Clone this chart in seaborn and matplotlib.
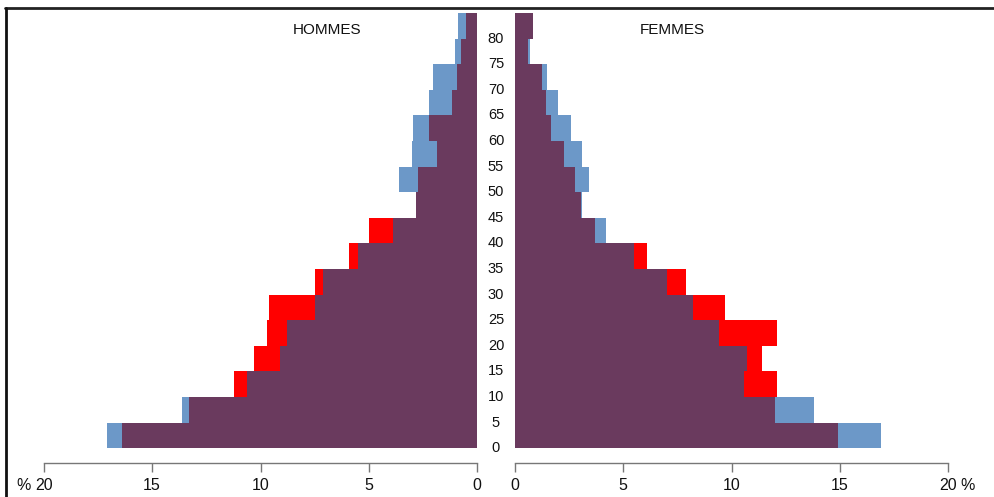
import numpy as np
import pandas as pd
import matplotlib
matplotlib.use("Agg")
import matplotlib.pyplot as plt
import matplotlib.transforms as mtransforms
from matplotlib.lines import Line2D
import seaborn as sns

# ---- data ----
ages = [0, 5, 10, 15, 20, 25, 30, 35, 40, 45, 50, 55, 60, 65, 70, 75, 80]
hommes_bleu = [17.1, 13.6, 10.6, 9.1, 8.8, 7.5, 7.1, 5.5, 3.9, 2.85, 3.6, 3.0, 2.95, 2.25, 2.05, 1.05, 0.9]
hommes_rouge = [16.4, 13.3, 11.2, 10.3, 9.7, 9.6, 7.5, 5.9, 5.0, 2.85, 2.75, 1.85, 2.25, 1.15, 0.95, 0.75, 0.5]
femmes_bleu = [16.9, 13.8, 10.6, 10.7, 9.4, 8.2, 7.0, 5.5, 4.2, 3.1, 3.4, 3.1, 2.6, 2.0, 1.5, 0.7, 0.83]
femmes_rouge = [14.9, 12.0, 12.1, 11.4, 12.1, 9.7, 7.9, 6.1, 3.7, 3.05, 2.75, 2.25, 1.65, 1.45, 1.25, 0.62, 0.83]
x_ticks = [0, 5, 10, 15, 20]
age_labels = [str(a) for a in ages]

BLUE = "#6C98C8"
RED = "#FF0000"
PURPLE = "#6A3A5E"
W, H = 994, 497

sns.set_theme(style="white")
plt.rcParams["font.family"] = ["Liberation Sans", "DejaVu Sans"]

fig = plt.figure(figsize=(W / 100, H / 100), dpi=100)
fig.patch.set_facecolor("white")

ybot = 1 - 448.3 / H
ytop = 1 - 13 / H
ax_l = fig.add_axes([43.7 / W, ybot, (477.3 - 43.7) / W, ytop - ybot])
ax_r = fig.add_axes([515 / W, ybot, (948 - 515) / W, ytop - ybot])

mids = [a + 2.5 for a in ages]


def draw(ax, bleu, rouge):
    overlap = np.minimum(bleu, rouge)
    for vals, col in ((bleu, BLUE), (rouge, RED), (overlap, PURPLE)):
        df = pd.DataFrame({"val": vals, "age": mids})
        sns.barplot(data=df, x="val", y="age", orient="y", native_scale=True,
                    width=1, color=col, saturation=1, linewidth=0,
                    errorbar=None, ax=ax)
    ax.set_ylim(0, 85)
    ax.set_xlabel("")
    ax.set_ylabel("")
    for s in ("top", "left", "right"):
        ax.spines[s].set_visible(False)
    sp = ax.spines["bottom"]
    sp.set_visible(True)
    sp.set_position(("outward", 10.6))
    sp.set_bounds(0, 20)
    sp.set_color("#777777")
    sp.set_linewidth(1.0)
    ax.set_xticks(x_ticks)
    ax.set_yticks([])
    ax.tick_params(axis="x", direction="out", length=6.5, width=1.0,
                   color="#777777", pad=4.5, labelsize=11.5, labelcolor="#111111",
                   bottom=True)
    ax.set_facecolor("none")


draw(ax_l, hommes_bleu, hommes_rouge)
ax_l.set_xlim(20, 0)
ax_l.set_xticklabels([str(t) for t in x_ticks])

draw(ax_r, femmes_bleu, femmes_rouge)
ax_r.set_xlim(0, 20)
ax_r.set_xticklabels([str(t) for t in x_ticks])

# percent signs next to the 20 ticks
y_lab = 1 - 485 / H
fig.text(24 / W, y_lab, "%", fontsize=11.5, ha="center", va="center", color="#111111")
fig.text(968 / W, y_lab, "%", fontsize=11.5, ha="center", va="center", color="#111111")

# age labels in the middle
tr = mtransforms.blended_transform_factory(fig.transFigure, ax_r.transData)
for a, lab in zip(ages, age_labels):
    ax_r.text(496 / W, a, lab, transform=tr, ha="center", va="center",
              fontsize=10.5, color="#111111", clip_on=False)

fig.text(327 / W, 1 - 30 / H, "HOMMES", ha="center", va="center", fontsize=11, color="#111111")
fig.text(672.5 / W, 1 - 30 / H, "FEMMES", ha="center", va="center", fontsize=11, color="#111111")

# outer frame (top and left)
fig.add_artist(Line2D([5 / W, 1], [1 - 8 / H, 1 - 8 / H], transform=fig.transFigure,
                      color="#222222", linewidth=2))
fig.add_artist(Line2D([6 / W, 6 / W], [0, 1 - 8 / H], transform=fig.transFigure,
                      color="#111111", linewidth=2))

fig.savefig("out.png", dpi=100)
